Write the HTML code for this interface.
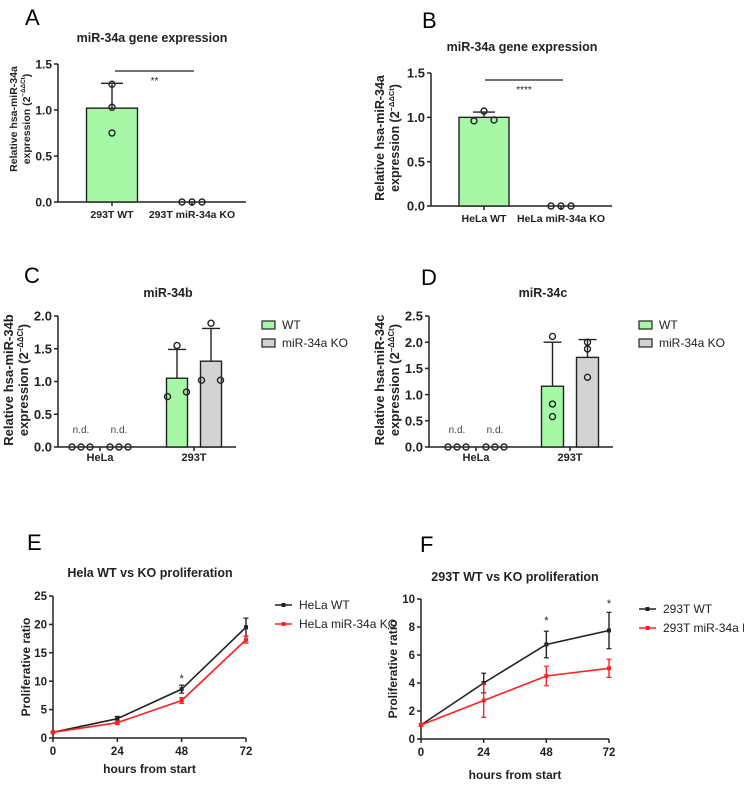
<!DOCTYPE html>
<html><head><meta charset="utf-8"><style>
body{margin:0;background:#fff;width:744px;height:785px;overflow:hidden}
svg{font-family:"Liberation Sans",Arial,sans-serif}
</style></head><body>
<svg id="fig" width="744" height="785" viewBox="0 0 744 785"></svg>
<script>
// ---- Data ----
const aCats = ["293T WT","293T miR-34a KO"];
const aMeans = [1.02, 0];
const aErr = [1.29, 0];
const aPts = [[1.28,1.03,0.75],[0,0,0]];
const bCats = ["HeLa WT","HeLa miR-34a KO"];
const bMeans = [1.0, 0];
const bErr = [1.06, 0];
const bPts = [[0.96,1.07,0.97],[0,0,0]];
const cdGroups = ["HeLa","293T"];
const cWT = [0, 1.05], cKO = [0, 1.31];
const cWTerr = [0, 1.49], cKOerr = [0, 1.81];
const cWTpts = [[0,0,0],[0.77,1.55,0.84]], cKOpts = [[0,0,0],[1.02,1.89,1.02]];
const dWT = [0, 1.16], dKO = [0, 1.71];
const dWTerr = [0, 2.0], dKOerr = [0, 2.05];
const dWTpts = [[0,0,0],[2.11,0.82,0.58]], dKOpts = [[0,0,0],[2.0,1.87,1.33]];
const hours = [0,24,48,72];
const eWT = [1,3.4,8.6,19.5], eWTerr = [0.1,0.4,0.7,1.6];
const eKO = [1,2.7,6.6,17.3], eKOerr = [0.1,0.3,0.5,0.6];
const fWT = [1,4.0,6.75,7.75], fWTerr = [0.1,0.7,0.95,1.3];
const fKO = [1,2.75,4.5,5.05], fKOerr = [0.1,1.2,0.7,0.65];
const eTicks = [0,5,10,15,20,25];
const fTicks = [0,2,4,6,8,10];

const svg = document.getElementById('fig');
const NS = 'http://www.w3.org/2000/svg';
function el(tag, attrs, parent, txt){
  const e = document.createElementNS(NS, tag);
  for (const k in attrs) e.setAttribute(k, attrs[k]);
  if (txt !== undefined) e.textContent = txt;
  (parent||svg).appendChild(e); return e;
}
function txt(x,y,s,size,opts){
  return el('text',Object.assign({x:x,y:y,'font-size':size,'text-anchor':'middle','font-weight':'bold',fill:'#222'},opts||{}),svg,s);
}
function letter(x,y,s){
  const t = txt(x,y,s,22,{'text-anchor':'start','font-weight':'normal',fill:'#000'});
  
  
}
function ylabel(cx,cy,l1,fs,gap,name){
  const g = el('g',{transform:`translate(${cx},${cy}) rotate(-90)`});
  
  
  el('text',{x:0,y:0,'font-size':fs,'text-anchor':'middle','font-weight':'bold',fill:'#222'},g,l1);
  const t2 = el('text',{x:0,y:gap,'font-size':fs,'text-anchor':'middle','font-weight':'bold',fill:'#222'},g,'expression (2');
  el('tspan',{'font-size':fs*0.6,dy:-5},t2,'−ΔΔCt');
  el('tspan',{dy:5},t2,')');
}
function yaxis(x,y0,y1,ticks,fmt,ymap,fs,name){
  const g = el('g',{});
  
  
  el('line',{x1:x,y1:y0,x2:x,y2:y1,stroke:'#222','stroke-width':1.5},g);
  ticks.forEach(t=>{
    const y=ymap(t);
    el('line',{x1:x-4,y1:y,x2:x,y2:y,stroke:'#222','stroke-width':1.5},g);
    el('text',{x:x-6,y:y+fs*0.36,'font-size':fs,'text-anchor':'end','font-weight':'bold',fill:'#222'},g,fmt(t));
  });
}
function circ(x,y,name){
  const c = el('circle',{cx:x,cy:y,r:3,fill:'none',stroke:'#222','stroke-width':1.4});
  
  
}
function errbar(x,yTop,yBase,w){
  el('line',{x1:x,y1:yBase,x2:x,y2:yTop,stroke:'#222','stroke-width':1.4});
  el('line',{x1:x-w,y1:yTop,x2:x+w,y2:yTop,stroke:'#222','stroke-width':1.4});
}

// ---- Panel A / B (two-bar) ----
function twoBar(o){
  const ym = v => o.y0 - (v/1.5)*(o.y0-o.y15);
  txt(o.tx,o.ty,o.title,12.5);
  yaxis(o.ax,o.y15,o.y0,[0,0.5,1.0,1.5],t=>t.toFixed(1),ym,o.fs,o.key+'-y-axis');
  el('line',{x1:o.ax,y1:o.y0,x2:o.xr,y2:o.y0,stroke:'#222','stroke-width':1.5});
  o.cats.forEach((c,i)=>{
    const cx=o.cx[i];
    el('line',{x1:cx,y1:o.y0,x2:cx,y2:o.y0+4,stroke:'#222','stroke-width':1.5});
    txt(cx,o.y0+16,c,10.5);
    if(o.means[i]>0){
      errbar(cx,ym(o.err[i]),ym(o.means[i]),11);
      const r=el('rect',{x:cx-o.bw/2,y:ym(o.means[i]),width:o.bw,height:o.y0-ym(o.means[i]),fill:'#a6f7a6',stroke:'#222','stroke-width':1.4});
      
      
      o.pts[i].forEach((p,j)=>circ(cx+(j-1)*o.pdx[j],ym(p),o.key+'-point'));
    } else {
      o.pts[i].forEach((p,j)=>circ(cx+(j-1)*10,ym(p),o.key+'-point'));
    }
  });
  el('line',{x1:o.sx[0],y1:o.sy,x2:o.sx[1],y2:o.sy,stroke:'#222','stroke-width':1.2});
  txt((o.sx[0]+o.sx[1])/2,o.sy+13,o.sig,10,{'font-weight':'normal'});
  ylabel(o.lx,o.ly,'Relative hsa-miR-34a',o.lfs,o.lgap,o.key+'-y-axis-title');
}
letter(25,25,'A');
twoBar({key:'panel-a',title:'miR-34a gene expression',tx:152,ty:42,ax:58,xr:246,y0:202,y15:64,cats:aCats,cx:[112,192],bw:51,
  means:aMeans,err:aErr,pts:aPts,pdx:[0,0,0],sx:[115,194],sy:71,sig:'**',lx:17,ly:119,fs:12,lfs:10.5,lgap:13});
letter(422,28,'B');
twoBar({key:'panel-b',title:'miR-34a gene expression',tx:522,ty:51,ax:431,xr:612,y0:206,y15:73,cats:bCats,cx:[484,561],bw:50,
  means:bMeans,err:bErr,pts:bPts,pdx:[10,0,10],sx:[485,563],sy:80,sig:'****',lx:384,ly:138,fs:13,lfs:12.5,lgap:15});

// ---- Panel C / D (grouped bars) ----
function grouped(o){
  const ym = v => o.y0 - (v/o.max)*(o.y0-o.ytop);
  txt(o.tx,o.ty,o.title,12.5);
  yaxis(o.ax,o.ytop,o.y0,o.ticks,t=>t.toFixed(1),ym,13,o.key+'-y-axis');
  el('line',{x1:o.ax,y1:o.y0,x2:o.xr,y2:o.y0,stroke:'#222','stroke-width':1.5});
  o.groups.forEach((g,i)=>{
    const gx=o.gx[i];
    el('line',{x1:gx,y1:o.y0,x2:gx,y2:o.y0+4,stroke:'#222','stroke-width':1.5});
    txt(gx,o.y0+14,g,11);
    const series=[[o.wt,o.wterr,o.wtpts,'#a6f7a6',-1],[o.ko,o.koerr,o.kopts,'#d3d3d3',1]];
    series.forEach(([m,e,p,col,s],k)=>{
      const bx=gx+s*(o.bw/2+o.gap/2);
      if(m[i]>0){
        errbar(bx,ym(e[i]),ym(m[i]),9);
        const r=el('rect',{x:bx-o.bw/2,y:ym(m[i]),width:o.bw,height:o.y0-ym(m[i]),fill:col,stroke:'#222','stroke-width':1.4});
        
        
        p[i].forEach((v,j)=>circ(bx+(j-1)*(o.bw/2-1)*o.spread[k][j],ym(v),o.key+'-point'));
      } else {
        const cx=gx+s*19;
        p[i].forEach((v,j)=>circ(cx+(j-1)*9,ym(v),o.key+'-point'));
        txt(cx,o.y0-14,'n.d.',10,{'font-weight':'normal',fill:'#444'});
      }
    });
  });
  [['WT','#a6f7a6'],['miR-34a KO','#d3d3d3']].forEach(([n,c],k)=>{
    const g=el('g',{});
    
    
    el('rect',{x:o.lgx,y:o.lgy+k*18-4,width:13,height:8,fill:c,stroke:'#222','stroke-width':1.2},g);
    el('text',{x:o.lgx+20,y:o.lgy+k*18+4,'font-size':12,fill:'#222'},g,n);
  });
  ylabel(o.lx,o.ly,o.yl1,13,15,o.key+'-y-axis-title');
}
letter(24,283,'C');
grouped({key:'panel-c',title:'miR-34b',tx:168,ty:297,ax:58,xr:236,y0:447,ytop:316,max:2.0,ticks:[0,0.5,1.0,1.5,2.0],
  groups:cdGroups,gx:[100,194],bw:21,gap:13,wt:cWT,ko:cKO,wterr:cWTerr,koerr:cKOerr,wtpts:cWTpts,kopts:cKOpts,
  spread:[[1,0.2,1],[1,0,1]],lgx:262,lgy:325,lx:13,ly:380,yl1:'Relative  hsa-miR-34b'});
letter(421,285,'D');
grouped({key:'panel-d',title:'miR-34c',tx:543,ty:297,ax:429,xr:613,y0:447,ytop:316,max:2.5,ticks:[0,0.5,1.0,1.5,2.0,2.5],
  groups:cdGroups,gx:[476,570],bw:22,gap:13,wt:dWT,ko:dKO,wterr:dWTerr,koerr:dKOerr,wtpts:dWTpts,kopts:dKOpts,
  spread:[[0,0,0],[0,0,0]],lgx:639,lgy:325,lx:384,ly:380,yl1:'Relative  hsa-miR-34c'});

// ---- Panel E / F (lines) ----
function lines(o){
  const xm = h => o.x0 + (h/72)*(o.x72-o.x0);
  const ym = v => o.y0 - (v/o.max)*(o.y0-o.ytop);
  txt(o.tx,o.ty,o.title,12.5);
  yaxis(o.x0,o.ytop,o.y0,o.ticks,t=>String(t),ym,11.5,o.key+'-y-axis');
  el('line',{x1:o.x0,y1:o.y0,x2:o.x72,y2:o.y0,stroke:'#222','stroke-width':1.5});
  hours.forEach(h=>{
    el('line',{x1:xm(h),y1:o.y0,x2:xm(h),y2:o.y0+4,stroke:'#222','stroke-width':1.5});
    txt(xm(h),o.y0+17,String(h),11.5);
  });
  txt((o.x0+o.x72)/2,o.xly,'hours from start',12);
  const yt=txt(0,0,'Proliferative ratio',12);
  yt.setAttribute('transform',`translate(${o.lx},${(o.y0+o.ytop)/2}) rotate(-90)`);
  
  [[o.wt,o.wterr,'#222'],[o.ko,o.koerr,'#ff2020']].forEach(([v,e,c],k)=>{
    const p=el('polyline',{points:v.map((d,i)=>xm(hours[i])+','+ym(d)).join(' '),fill:'none',stroke:c,'stroke-width':1.6});
    
    
    v.forEach((d,i)=>{
      const x=xm(hours[i]);
      el('line',{x1:x,y1:ym(d-e[i]),x2:x,y2:ym(d+e[i]),stroke:c,'stroke-width':1.4});
      el('line',{x1:x-2.5,y1:ym(d-e[i]),x2:x+2.5,y2:ym(d-e[i]),stroke:c,'stroke-width':1.2});
      el('line',{x1:x-2.5,y1:ym(d+e[i]),x2:x+2.5,y2:ym(d+e[i]),stroke:c,'stroke-width':1.2});
      el('rect',{x:x-2,y:ym(d)-2,width:4,height:4,fill:c});
    });
  });
  o.stars.forEach(([h,v])=>txt(xm(h),ym(v)+4,'*',11,{'font-weight':'normal'}));
  o.legend.forEach((n,k)=>{
    const c=k?'#ff2020':'#222';
    const g=el('g',{});
    
    
    el('line',{x1:o.lgx,y1:o.lgy+k*19,x2:o.lgx+17,y2:o.lgy+k*19,stroke:c,'stroke-width':1.6},g);
    el('rect',{x:o.lgx+6.5,y:o.lgy+k*19-2,width:4,height:4,fill:c},g);
    el('text',{x:o.lgx+24,y:o.lgy+k*19+4,'font-size':12,fill:'#222'},g,n);
  });
}
letter(27,550,'E');
lines({key:'panel-e',title:'Hela WT vs  KO proliferation',tx:150,ty:577,x0:53,x72:246,y0:738,ytop:596,max:25,ticks:eTicks,
  wt:eWT,wterr:eWTerr,ko:eKO,koerr:eKOerr,stars:[[48,10.6]],xly:773,lx:30,
  legend:['HeLa WT','HeLa miR-34a KO'],lgx:275,lgy:605});
letter(420,552,'F');
lines({key:'panel-f',title:'293T WT vs  KO proliferation',tx:515,ty:581,x0:421,x72:609,y0:739,ytop:599,max:10,ticks:fTicks,
  wt:fWT,wterr:fWTerr,ko:fKO,koerr:fKOerr,stars:[[48,8.5],[72,9.7]],xly:779,lx:397,
  legend:['293T  WT','293T miR-34a KO'],lgx:639,lgy:609});
</script>
</body></html>
